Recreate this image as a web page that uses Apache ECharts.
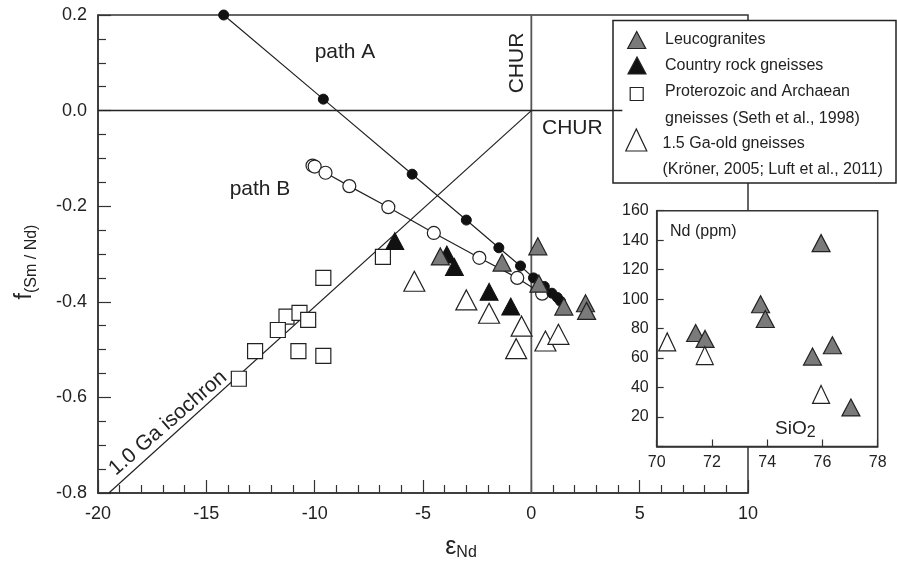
<!DOCTYPE html>
<html>
<head>
<meta charset="utf-8">
<script src="https://cdn.jsdelivr.net/npm/echarts@6/dist/echarts.min.js"></script>
<style>
  html, body { margin: 0; padding: 0; background: #fff; }
  #chart { width: 897px; height: 562px; }
</style>
</head>
<body>
<div id="chart"></div>
<script>
// main diagram: eNd vs f(Sm/Nd)
var pathA = [[-14.2, 0.2], [-9.6, 0.024], [-5.5, -0.133], [-3.0, -0.229], [-1.5, -0.287], [-0.5, -0.325], [0.1, -0.35], [0.6, -0.368], [0.95, -0.382], [1.2, -0.391], [1.35, -0.399]];
var pathB = [[-10.1, -0.115], [-10.0, -0.117], [-9.5, -0.13], [-8.4, -0.158], [-6.6, -0.202], [-4.5, -0.256], [-2.4, -0.308], [-0.65, -0.35], [0.5, -0.383]];
var leucogranites = [[-4.2, -0.305], [-1.35, -0.318], [0.3, -0.284], [0.35, -0.362], [1.5, -0.41], [2.5, -0.403], [2.55, -0.419]];
var countryGneiss = [[-6.3, -0.273], [-3.9, -0.301], [-3.55, -0.327], [-1.95, -0.379], [-0.95, -0.41]];
var sethGneiss = [[-6.85, -0.306], [-9.6, -0.35], [-11.3, -0.431], [-10.7, -0.423], [-10.3, -0.438], [-11.7, -0.459], [-12.75, -0.503], [-10.75, -0.503], [-9.6, -0.513], [-13.5, -0.561]];
var oldGneiss = [[-5.4, -0.357], [-3.0, -0.396], [-1.95, -0.424], [-0.45, -0.451], [-0.7, -0.498], [0.65, -0.482], [1.25, -0.468]];
var churH = [[-20, 0], [4.2, 0]];
var churV = [[0, -0.8], [0, 0.2]];
var isochron = [[-19.5, -0.8], [0, 0]];

// inset: SiO2 vs Nd (ppm)
var insetLeuco = [[75.95, 138], [73.76, 96.5], [73.93, 86.5], [71.41, 77], [71.75, 73], [75.64, 61], [76.36, 68.7], [77.03, 26.5]];
var insetOld = [[70.38, 71], [71.74, 61.7], [75.95, 35.3]];

var legendRows = [
  { text: "Leucogranites", y: 40 },
  { text: "Country rock gneisses", y: 66 },
  { text: "Proterozoic and Archaean", y: 92 },
  { text: "gneisses (Seth et al., 1998)", y: 118.5 },
  { text: "1.5 Ga-old gneisses", y: 143.5, x: 662.5 },
  { text: "(Kröner, 2005; Luft et al., 2011)", y: 170, x: 662.5 },
];

var FONT = "Liberation Sans";
var chartDom = document.getElementById("chart");
var myChart = echarts.init(chartDom);

function tri(cx, cy, w, h, fill) {
  return {
    type: "polygon",
    z: 31,
    shape: { points: [[cx, cy - h / 2], [cx - w / 2, cy + h / 2], [cx + w / 2, cy + h / 2]] },
    style: { fill: fill, stroke: "#222", lineWidth: 1.2 },
  };
}

var legendGraphic = [
  {
    type: "rect",
    z: 30,
    shape: { x: 613, y: 20.5, width: 283, height: 162.5 },
    style: { fill: "#fff", stroke: "#222", lineWidth: 1.5 },
  },
  tri(636.7, 40, 18, 17, "#7a7a7a"),
  tri(637, 65.5, 18, 17, "#111"),
  {
    type: "rect",
    z: 31,
    shape: { x: 630.2, y: 87.5, width: 13, height: 13 },
    style: { fill: "#fff", stroke: "#222", lineWidth: 1.2 },
  },
  tri(636.3, 140, 21, 22, "#fff"),
];
legendRows.forEach(function (r) {
  legendGraphic.push({
    type: "text",
    z: 31,
    x: r.x || 665,
    y: r.y,
    style: { text: r.text, font: "16px " + FONT, fill: "#222", textVerticalAlign: "middle" },
  });
});

var notes = [
  { type: "text", z: 20, x: 345, y: 52, style: { text: "path A", font: "21px " + FONT, fill: "#222", textAlign: "center", textVerticalAlign: "middle" } },
  { type: "text", z: 20, x: 260, y: 189, style: { text: "path B", font: "21px " + FONT, fill: "#222", textAlign: "center", textVerticalAlign: "middle" } },
  { type: "text", z: 20, x: 517, y: 63, rotation: Math.PI / 2, style: { text: "CHUR", font: "21px " + FONT, fill: "#222", textAlign: "center", textVerticalAlign: "middle" } },
  { type: "text", z: 20, x: 542, y: 128, style: { text: "CHUR", font: "21px " + FONT, fill: "#222", textVerticalAlign: "middle" } },
  { type: "text", z: 20, x: 168, y: 423, rotation: (41 * Math.PI) / 180, style: { text: "1.0 Ga isochron", font: "21px " + FONT, fill: "#222", textAlign: "center", textVerticalAlign: "middle" } },
  {
    type: "text", z: 20, x: 25, y: 262, rotation: Math.PI / 2,
    style: {
      text: "{f|f}{s|(Sm / Nd)}", textAlign: "center", textVerticalAlign: "middle", fill: "#222",
      rich: { f: { fontSize: 23, fontFamily: FONT }, s: { fontSize: 16, fontFamily: FONT, padding: [14, 0, 0, 0] } },
    },
  },
  {
    type: "text", z: 20, x: 461, y: 547,
    style: {
      text: "{e|ε}{s|Nd}", textAlign: "center", textVerticalAlign: "middle", fill: "#222",
      rich: { e: { fontSize: 25, fontFamily: FONT }, s: { fontSize: 16, fontFamily: FONT, padding: [12, 0, 0, 0] } },
    },
  },
  { type: "text", z: 40, x: 670, y: 232, style: { text: "Nd (ppm)", font: "16px " + FONT, fill: "#222", textVerticalAlign: "middle" } },
  {
    type: "text", z: 40, x: 775, y: 429,
    style: {
      text: "{a|SiO}{b|2}", textVerticalAlign: "middle", fill: "#222",
      rich: { a: { fontSize: 19, fontFamily: FONT }, b: { fontSize: 16, fontFamily: FONT, padding: [7, 0, 0, 0] } },
    },
  },
];

var axisLine = { show: true, onZero: false, lineStyle: { color: "#333", width: 1.5 } };
var tickStyle = { color: "#333", width: 1.2 };

var option = {
  animation: false,
  backgroundColor: "#fff",
  textStyle: { fontFamily: FONT },
  grid: [
    { left: 98, top: 15, right: 149, bottom: 69, show: true, borderColor: "#333", borderWidth: 1.5, z: 0 },
    { left: 656.7, top: 210.7, right: 19.3, bottom: 115.5, show: true, backgroundColor: "#fff", borderColor: "#333", borderWidth: 1.5, z: 5 },
  ],
  xAxis: [
    {
      gridIndex: 0, type: "value", min: -20, max: 10, interval: 5,
      axisLine: axisLine,
      axisTick: { inside: true, length: 13, lineStyle: tickStyle },
      minorTick: { show: true, splitNumber: 5, length: 8, lineStyle: tickStyle },
      splitLine: { show: false },
      axisLabel: { fontSize: 18, color: "#222", margin: 12 },
    },
    {
      gridIndex: 1, type: "value", min: 70, max: 78, interval: 2, z: 6,
      axisLine: axisLine,
      axisTick: { inside: true, length: 7, lineStyle: tickStyle },
      splitLine: { show: false },
      axisLabel: { fontSize: 16, color: "#222", margin: 8 },
    },
  ],
  yAxis: [
    {
      gridIndex: 0, type: "value", min: -0.8, max: 0.2, interval: 0.2,
      axisLine: axisLine,
      axisTick: { inside: true, length: 13, lineStyle: tickStyle },
      minorTick: { show: true, splitNumber: 4, length: 8, lineStyle: tickStyle },
      splitLine: { show: false },
      axisLabel: {
        fontSize: 18, color: "#222", margin: 11,
        formatter: function (v) { return v.toFixed(1); },
      },
    },
    {
      gridIndex: 1, type: "value", min: 0, max: 160, interval: 20, z: 6,
      axisLine: axisLine,
      axisTick: { inside: true, length: 7, lineStyle: tickStyle },
      splitLine: { show: false },
      axisLabel: {
        fontSize: 16, color: "#222", margin: 8,
        formatter: function (v) { return v === 0 ? "" : v; },
      },
    },
  ],
  graphic: legendGraphic.concat(notes),
  series: [
    { type: "line", data: churV, showSymbol: false, silent: true, z: 1, lineStyle: { color: "#555", width: 1.8 } },
    { type: "line", data: churH, showSymbol: false, silent: true, z: 35, lineStyle: { color: "#222", width: 1.5 } },
    { type: "line", data: isochron, showSymbol: false, silent: true, z: 1, lineStyle: { color: "#222", width: 1.2 } },
    {
      name: "1.5 Ga-old gneisses", type: "scatter", data: oldGneiss, z: 2,
      symbol: "triangle", symbolSize: [21, 20],
      itemStyle: { color: "#fff", borderColor: "#222", borderWidth: 1.2, opacity: 1 },
    },
    {
      name: "Proterozoic and Archaean gneisses", type: "scatter", data: sethGneiss, z: 2,
      symbol: "rect", symbolSize: 15,
      itemStyle: { color: "#fff", borderColor: "#222", borderWidth: 1.2, opacity: 1 },
    },
    {
      name: "Country rock gneisses", type: "scatter", data: countryGneiss, z: 3,
      symbol: "triangle", symbolSize: [18, 17],
      itemStyle: { color: "#111", borderColor: "#111", borderWidth: 1, opacity: 1 },
    },
    {
      name: "path B", type: "line", data: pathB, z: 4,
      symbol: "circle", symbolSize: 13, showAllSymbol: true,
      lineStyle: { color: "#222", width: 1.2 },
      itemStyle: { color: "#fff", borderColor: "#222", borderWidth: 1.2 },
    },
    {
      name: "path A", type: "line", data: pathA, z: 4,
      symbol: "circle", symbolSize: 10, showAllSymbol: true,
      lineStyle: { color: "#222", width: 1.2 },
      itemStyle: { color: "#111", borderColor: "#111", borderWidth: 1 },
    },
    {
      name: "Leucogranites", type: "scatter", data: leucogranites, z: 5,
      symbol: "triangle", symbolSize: [18, 17],
      itemStyle: { color: "#7a7a7a", borderColor: "#222", borderWidth: 1.2, opacity: 1 },
    },
    {
      name: "inset leucogranites", type: "scatter", xAxisIndex: 1, yAxisIndex: 1, data: insetLeuco, z: 40,
      symbol: "triangle", symbolSize: [18, 17],
      itemStyle: { color: "#7a7a7a", borderColor: "#222", borderWidth: 1.2, opacity: 1 },
    },
    {
      name: "inset 1.5 Ga", type: "scatter", xAxisIndex: 1, yAxisIndex: 1, data: insetOld, z: 40,
      symbol: "triangle", symbolSize: [17, 18],
      itemStyle: { color: "#fff", borderColor: "#222", borderWidth: 1.2, opacity: 1 },
    },
  ],
};
option && myChart.setOption(option);
</script>
</body>
</html>
